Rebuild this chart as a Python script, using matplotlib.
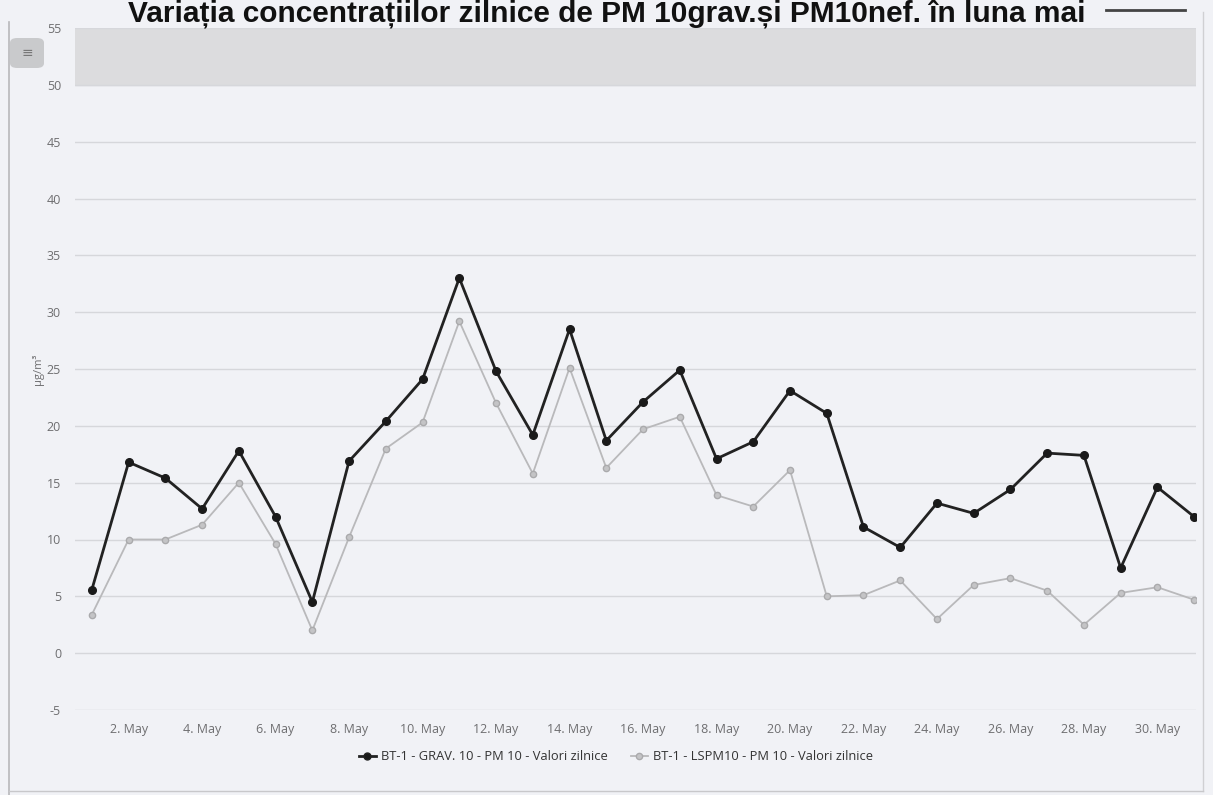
import matplotlib
matplotlib.use("Agg")
import matplotlib.pyplot as plt
from matplotlib.patches import FancyBboxPatch
from matplotlib.lines import Line2D

# daily PM10 values, May
days = list(range(1, 32))
grav = [5.6, 16.8, 15.4, 12.7, 17.8, 12.0, 4.5, 16.9, 20.4, 24.1,
        33.0, 24.8, 19.2, 28.5, 18.7, 22.1, 24.9, 17.1, 18.6, 23.1,
        21.1, 11.1, 9.3, 13.2, 12.3, 14.4, 17.6, 17.4, 7.5, 14.6, 12.0]
lspm = [3.4, 10.0, 10.0, 11.3, 15.0, 9.6, 2.0, 10.2, 18.0, 20.3,
        29.2, 22.0, 15.8, 25.1, 16.3, 19.7, 20.8, 13.9, 12.9, 16.1,
        5.0, 5.1, 6.4, 3.0, 6.0, 6.6, 5.5, 2.5, 5.3, 5.8, 4.7]
tick_days = list(range(2, 31, 2))
tick_labels = [f"{d}. May" for d in tick_days]
y_ticks = list(range(-5, 56, 5))

title = "Variația concentrațiilor zilnice de PM 10grav.și PM10nef. în luna mai"
name_grav = "BT-1 - GRAV. 10 - PM 10 - Valori zilnice"
name_lspm = "BT-1 - LSPM10 - PM 10 - Valori zilnice"

bg = "#f1f2f6"
W, H = 1213, 795

plt.rcParams["font.family"] = ["Open Sans", "DejaVu Sans"]
plt.rcParams["axes.unicode_minus"] = False

fig = plt.figure(figsize=(W / 100, H / 100), dpi=100, facecolor=bg)
ax = fig.add_axes([75 / W, 1 - 710 / H, (1196 - 75) / W, (710 - 28) / H])
ax.set_facecolor(bg)

# grey band at the top of the plot
ax.axhspan(50, 55, color="#dcdcde", zorder=0)

for v in y_ticks:
    ax.axhline(v, color="#d6d7db", lw=1, zorder=1)

ax.plot(days, lspm, color="#b9b9bb", lw=1.3, marker="o", ms=4.5,
        markerfacecolor="#c4c4c6", markeredgecolor="#aaaaac", zorder=3)
ax.plot(days, grav, color="#222222", lw=2, marker="o", ms=5.5,
        markerfacecolor="#1a1a1a", markeredgecolor="#1a1a1a", zorder=4)

ax.set_xlim(0.54, 31.05)
ax.set_ylim(-5, 55)
ax.set_xticks(tick_days)
ax.set_xticklabels(tick_labels)
ax.set_yticks(y_ticks)
ax.tick_params(axis="both", length=0, colors="#6e6e70", labelsize=9)
ax.tick_params(axis="x", pad=9)
ax.tick_params(axis="y", pad=10)
for s in ax.spines.values():
    s.set_visible(False)
ax.set_ylabel("µg/m³", color="#6e6e70", fontsize=8, labelpad=2)

# title (cut at the top as in the scan)
fig.text(607 / W, 1 - 21 / H, title, ha="center", va="baseline",
         fontsize=21.5, fontweight="bold", family="Liberation Sans", color="#111111")
fig.add_artist(Line2D([1106 / W, 1185 / W], [1 - 10 / H, 1 - 10 / H],
                      color="#444444", lw=2))

# menu button
fig.add_artist(FancyBboxPatch((10 / W, 1 - 68 / H), 34 / W, 30 / H,
                              boxstyle="round,pad=0,rounding_size=0.006",
                              transform=fig.transFigure, facecolor="#c9cacc",
                              edgecolor="none"))
fig.text(27 / W, 1 - 53 / H, "≡", ha="center", va="center", fontsize=10, color="#777777")

# page frame
fig.add_artist(Line2D([9 / W, 9 / W], [0, 1 - 22 / H], color="#b8b8bb", lw=1.2))
fig.add_artist(Line2D([1203 / W, 1203 / W], [4 / H, 1 - 12 / H], color="#d0d0d3", lw=1))
fig.add_artist(Line2D([9 / W, 1203 / W], [4 / H, 4 / H], color="#c8c8cb", lw=1))

handles = [
    Line2D([], [], color="#222222", lw=2, marker="o", ms=5, markerfacecolor="#1a1a1a"),
    Line2D([], [], color="#b9b9bb", lw=1.3, marker="o", ms=4.5,
           markerfacecolor="#c4c4c6", markeredgecolor="#aaaaac"),
]
fig.legend(handles, [name_grav, name_lspm], loc="center", ncol=2,
           bbox_to_anchor=(616 / W, 1 - 757 / H), frameon=False,
           fontsize=9.3, labelcolor="#333333", handlelength=1.3,
           handletextpad=0.4, columnspacing=1.8)

fig.savefig("out.png", dpi=100, facecolor=bg)
